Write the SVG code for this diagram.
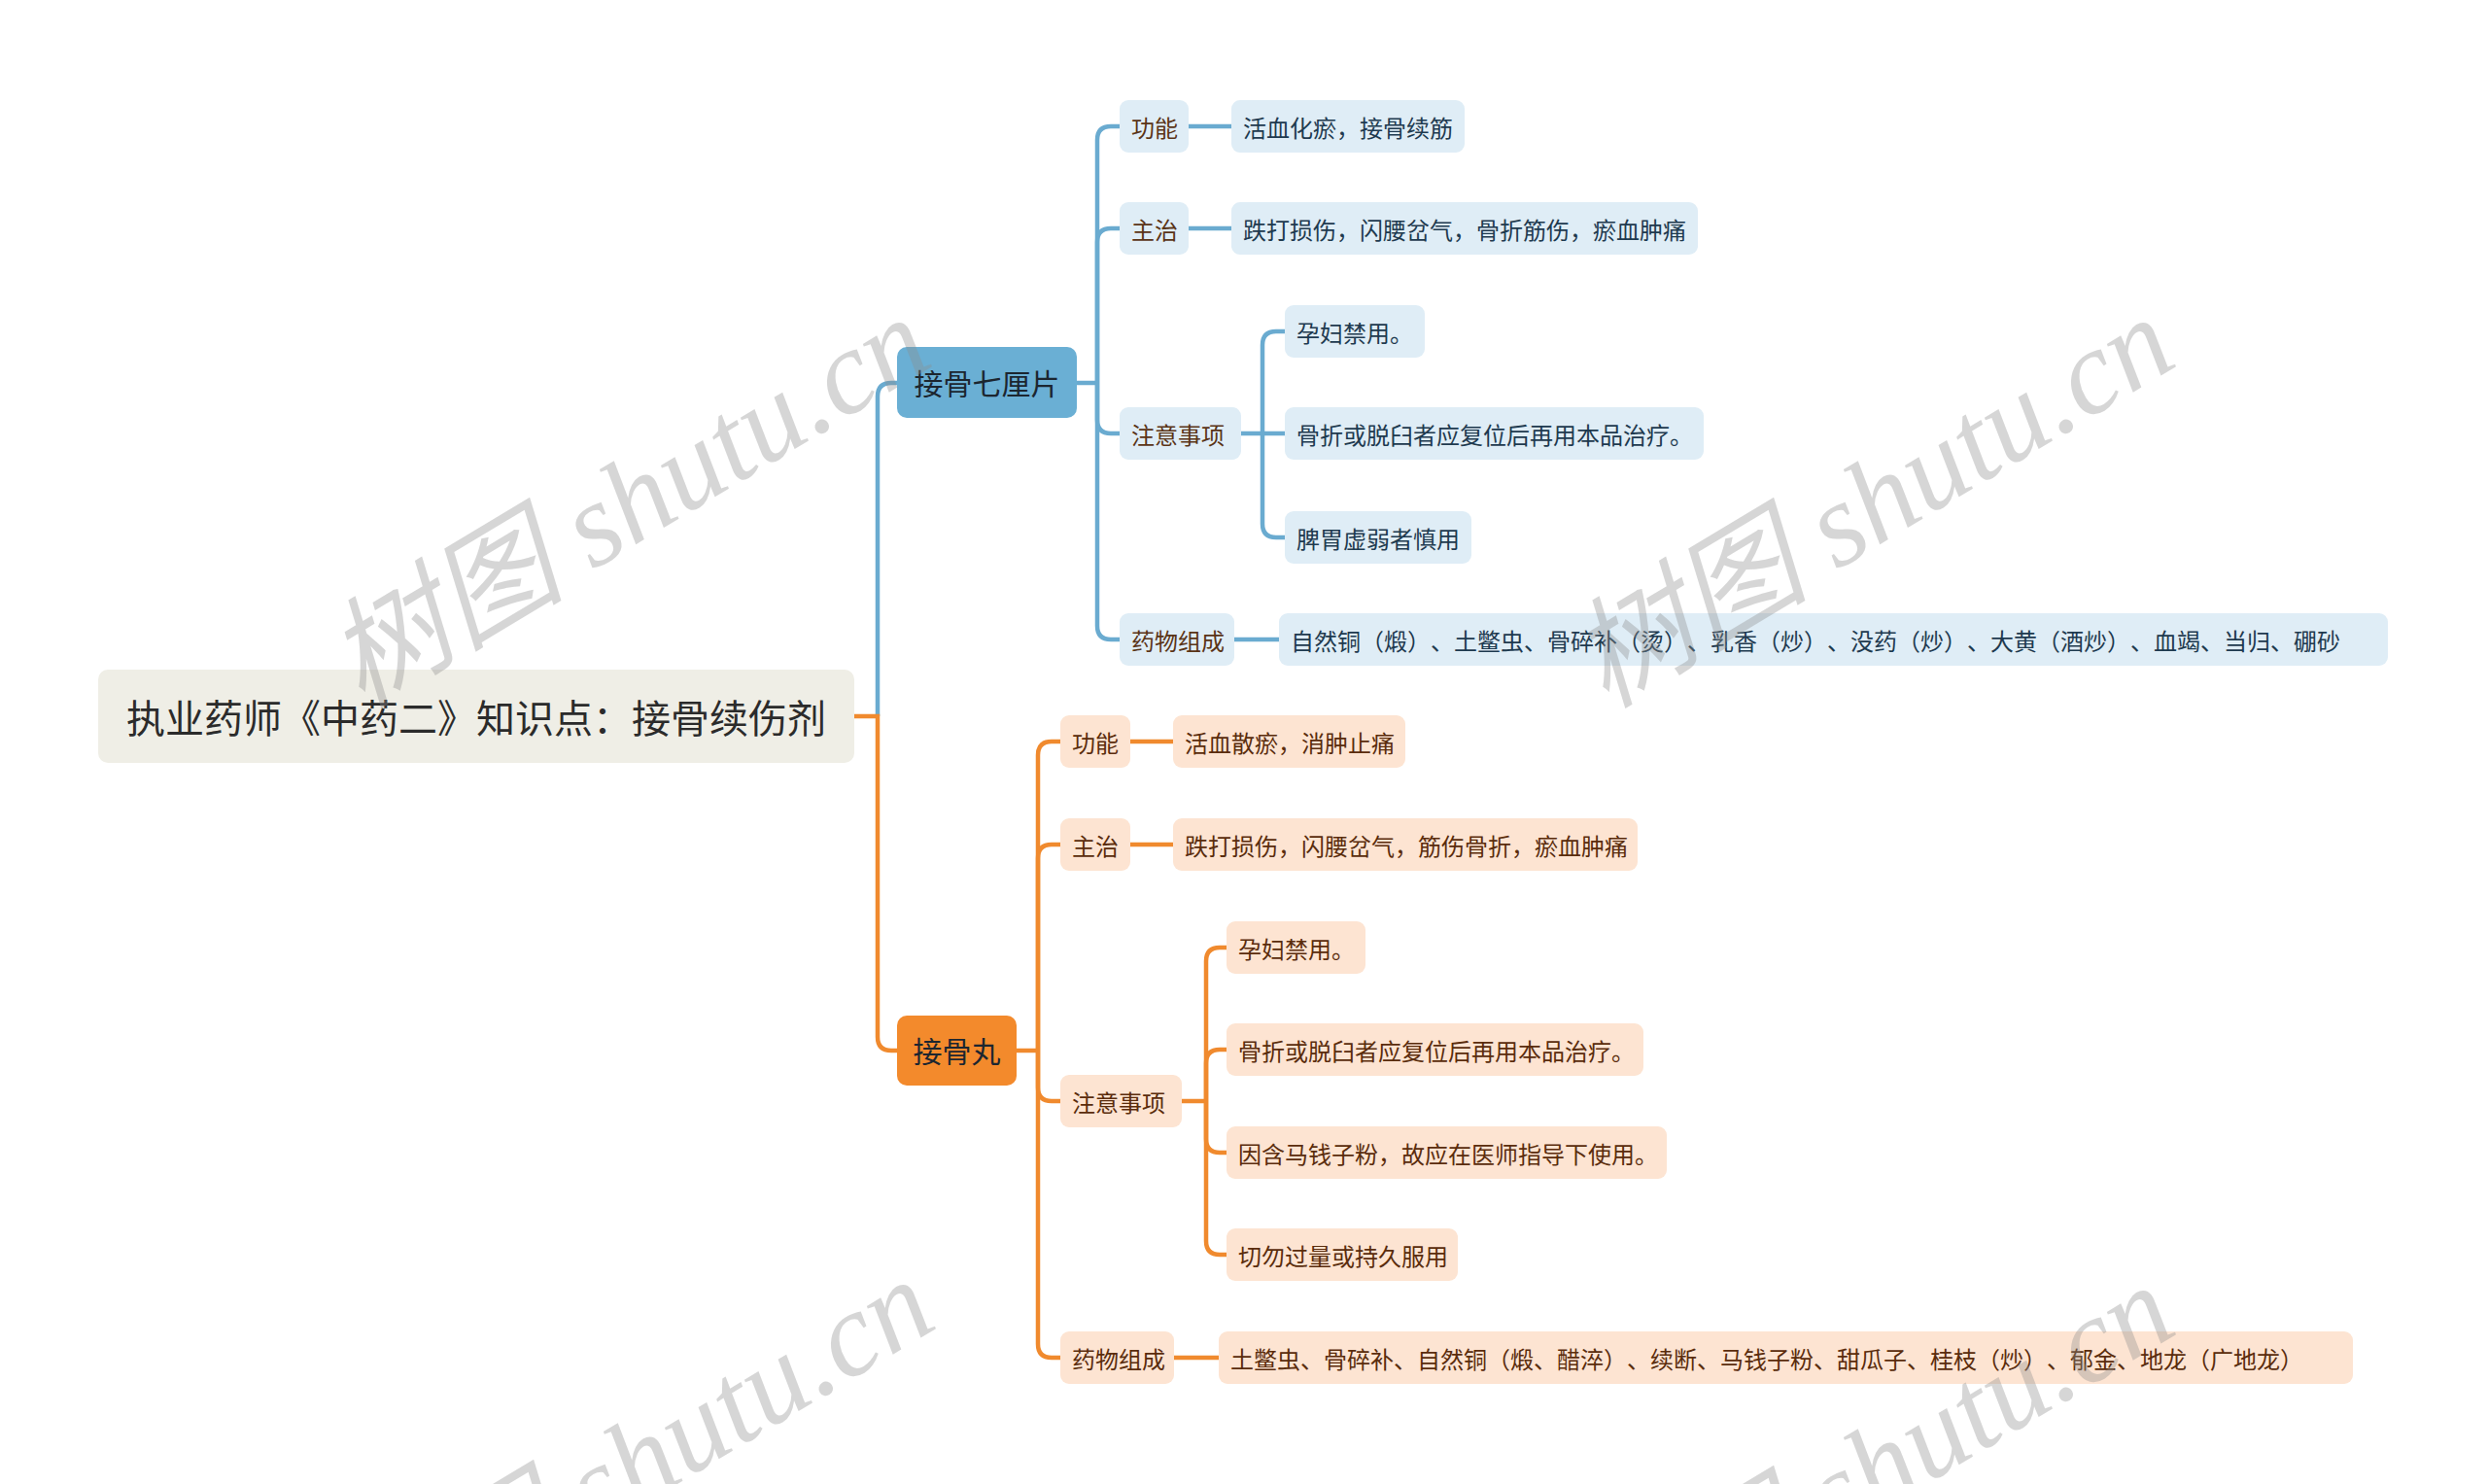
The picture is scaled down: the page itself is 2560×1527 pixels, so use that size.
<svg xmlns="http://www.w3.org/2000/svg" width="2560" height="1527" viewBox="0 0 2560 1527">
<style>
text{font-family:"Noto Sans CJK SC","Noto Sans",sans-serif;dominant-baseline:central;text-spacing-trim:space-all}
.root rect{fill:#efeee6}
.root text{font-size:40px;fill:#2b2b2b;text-anchor:middle}
.l1b rect{fill:#6aafd4}
.l1o rect{fill:#f38a2c}
.l1b text,.l1o text{font-size:30px;fill:#1c2630;text-anchor:middle}
.b rect{fill:#dfedf6}
.o rect{fill:#fde4d2}
.b text,.o text{font-size:24px}
.b .k{fill:#5a3416}
.b .v{fill:#1e3a4f}
.o text{fill:#5a2c0c}
.cb{fill:none;stroke:#6aabd0;stroke-width:4.5;stroke-linecap:butt}
.co{fill:none;stroke:#f08a2e;stroke-width:4.5;stroke-linecap:butt}
.wm{font-family:"Liberation Serif","Noto Sans CJK SC",serif;font-style:italic;font-size:123px;fill:#8c8c8c;fill-opacity:0.36;text-anchor:middle;dominant-baseline:alphabetic}
</style>
<rect width="2560" height="1527" fill="#ffffff"/>
<g id="connectors">
<path class="cb" d="M903 737 V408 Q903 394 917 394 H923"/>
<path class="co" d="M879 737 H903 V1067 Q903 1081 917 1081 H923"/>
<path class="cb" d="M1108 394 H1129"/>
<path class="cb" d="M1129 394 V144 Q1129 130 1143 130 H1152"/>
<path class="cb" d="M1129 394 V249 Q1129 235 1143 235 H1152"/>
<path class="cb" d="M1129 394 V432 Q1129 446 1143 446 H1152"/>
<path class="cb" d="M1129 394 V644 Q1129 658 1143 658 H1152"/>
<path class="cb" d="M1223 130 H1267"/>
<path class="cb" d="M1223 235 H1267"/>
<path class="cb" d="M1277 446 H1322"/>
<path class="cb" d="M1299 446 V355 Q1299 341 1313 341 H1322"/>
<path class="cb" d="M1299 446 V539 Q1299 553 1313 553 H1322"/>
<path class="cb" d="M1270 658 H1316"/>
<path class="co" d="M1046 1081 H1068"/>
<path class="co" d="M1068 1081 V777 Q1068 763 1082 763 H1091"/>
<path class="co" d="M1068 1081 V883 Q1068 869 1082 869 H1091"/>
<path class="co" d="M1068 1081 V1119 Q1068 1133 1082 1133 H1091"/>
<path class="co" d="M1068 1081 V1383 Q1068 1397 1082 1397 H1091"/>
<path class="co" d="M1163 763 H1207"/>
<path class="co" d="M1163 869 H1207"/>
<path class="co" d="M1216 1133 H1241"/>
<path class="co" d="M1241 1133 V989 Q1241 975 1255 975 H1262"/>
<path class="co" d="M1241 1133 V1094 Q1241 1080 1255 1080 H1262"/>
<path class="co" d="M1241 1133 V1172 Q1241 1186 1255 1186 H1262"/>
<path class="co" d="M1241 1133 V1277 Q1241 1291 1255 1291 H1262"/>
<path class="co" d="M1208 1397 H1254"/>
</g>
<g id="root" class="root"><rect x="101" y="689" width="778" height="96" rx="10"/><text x="490" y="737">执业药师《中药二》知识点：接骨续伤剂</text></g>
<g id="n-qlp" class="l1b"><rect x="923" y="357" width="185" height="73" rx="10"/><text x="1015.5" y="393">接骨七厘片</text></g>
<g id="n-gw" class="l1o"><rect x="923" y="1045" width="123" height="72" rx="10"/><text x="984.5" y="1080">接骨丸</text></g>

<g id="b-gn" class="b"><rect x="1152" y="103" width="71" height="54" rx="9"/><text class="k" x="1164" y="130">功能</text></g>
<g id="b-gn-v" class="b"><rect x="1267" y="103" width="240" height="54" rx="9"/><text class="v" x="1279" y="130">活血化瘀，接骨续筋</text></g>
<g id="b-zz" class="b"><rect x="1152" y="208" width="71" height="54" rx="9"/><text class="k" x="1164" y="235">主治</text></g>
<g id="b-zz-v" class="b"><rect x="1267" y="208" width="480" height="54" rx="9"/><text class="v" x="1279" y="235">跌打损伤，闪腰岔气，骨折筋伤，瘀血肿痛</text></g>
<g id="b-zysx" class="b"><rect x="1152" y="419" width="125" height="54" rx="9"/><text class="k" x="1164" y="446">注意事项</text></g>
<g id="b-zy1" class="b"><rect x="1322" y="314" width="144" height="54" rx="9"/><text class="v" x="1334" y="341">孕妇禁用。</text></g>
<g id="b-zy2" class="b"><rect x="1322" y="419" width="431" height="54" rx="9"/><text class="v" x="1334" y="446">骨折或脱臼者应复位后再用本品治疗。</text></g>
<g id="b-zy3" class="b"><rect x="1322" y="526" width="192" height="54" rx="9"/><text class="v" x="1334" y="553">脾胃虚弱者慎用</text></g>
<g id="b-ywzc" class="b"><rect x="1152" y="631" width="118" height="54" rx="9"/><text class="k" x="1164" y="658">药物组成</text></g>
<g id="b-ywzc-v" class="b"><rect x="1316" y="631" width="1141" height="54" rx="9"/><text class="v" x="1328" y="658">自然铜（煅）、土鳖虫、骨碎补（烫）、乳香（炒）、没药（炒）、大黄（酒炒）、血竭、当归、硼砂</text></g>

<g id="o-gn" class="o"><rect x="1091" y="736" width="72" height="54" rx="9"/><text x="1103" y="763">功能</text></g>
<g id="o-gn-v" class="o"><rect x="1207" y="736" width="239" height="54" rx="9"/><text x="1219" y="763">活血散瘀，消肿止痛</text></g>
<g id="o-zz" class="o"><rect x="1091" y="842" width="72" height="54" rx="9"/><text x="1103" y="869">主治</text></g>
<g id="o-zz-v" class="o"><rect x="1207" y="842" width="478" height="54" rx="9"/><text x="1219" y="869">跌打损伤，闪腰岔气，筋伤骨折，瘀血肿痛</text></g>
<g id="o-zysx" class="o"><rect x="1091" y="1106" width="125" height="54" rx="9"/><text x="1103" y="1133">注意事项</text></g>
<g id="o-zy1" class="o"><rect x="1262" y="948" width="143" height="54" rx="9"/><text x="1274" y="975">孕妇禁用。</text></g>
<g id="o-zy2" class="o"><rect x="1262" y="1053" width="429" height="54" rx="9"/><text x="1274" y="1080">骨折或脱臼者应复位后再用本品治疗。</text></g>
<g id="o-zy3" class="o"><rect x="1262" y="1159" width="453" height="54" rx="9"/><text x="1274" y="1186">因含马钱子粉，故应在医师指导下使用。</text></g>
<g id="o-zy4" class="o"><rect x="1262" y="1264" width="238" height="54" rx="9"/><text x="1274" y="1291">切勿过量或持久服用</text></g>
<g id="o-ywzc" class="o"><rect x="1091" y="1370" width="117" height="54" rx="9"/><text x="1103" y="1397">药物组成</text></g>
<g id="o-ywzc-v" class="o"><rect x="1254" y="1370" width="1167" height="54" rx="9"/><text x="1266" y="1397">土鳖虫、骨碎补、自然铜（煅、醋淬）、续断、马钱子粉、甜瓜子、桂枝（炒）、郁金、地龙（广地龙）</text></g>

<g id="watermarks">
<text class="wm" transform="translate(668,552) rotate(-31)">树图 shutu.cn</text>
<text class="wm" transform="translate(1948,552) rotate(-31)">树图 shutu.cn</text>
<text class="wm" transform="translate(672,1542) rotate(-31)">树图 shutu.cn</text>
<text class="wm" transform="translate(1948,1548) rotate(-31)">树图 shutu.cn</text>
</g>
</svg>
